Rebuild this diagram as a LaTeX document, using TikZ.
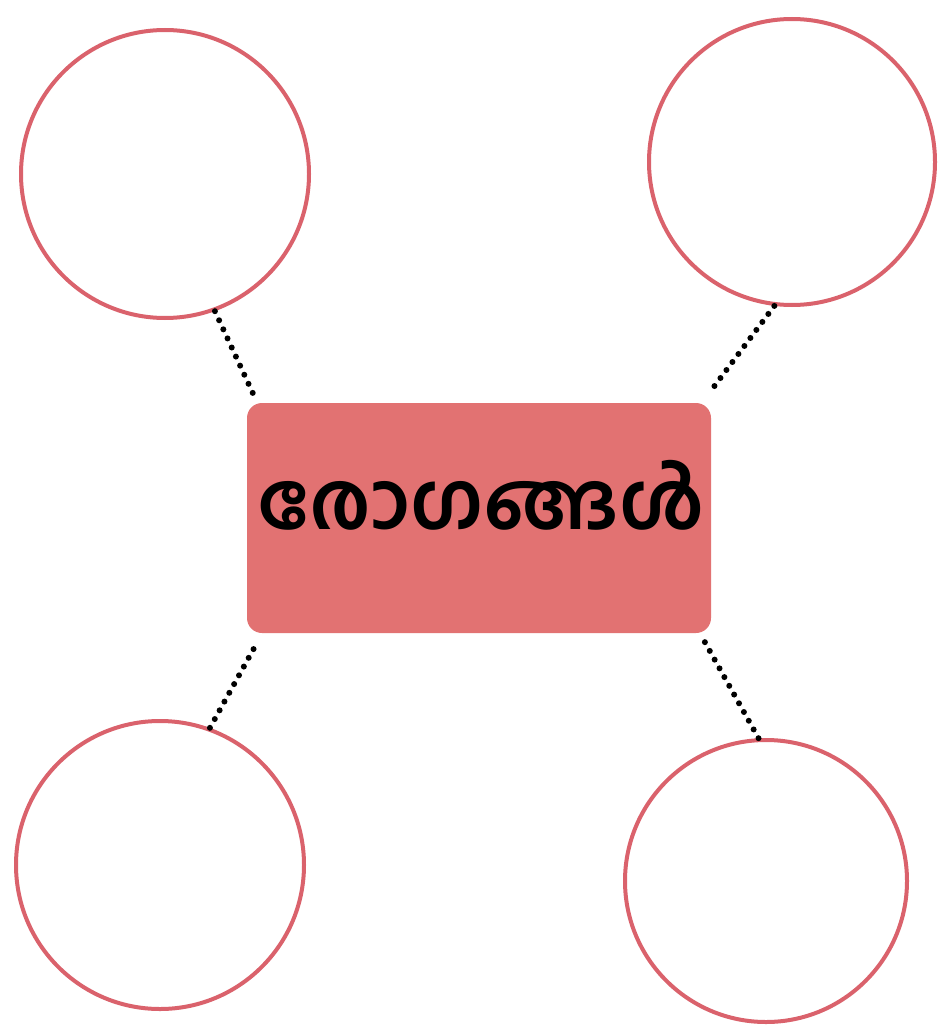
\documentclass[tikz,border=0pt]{standalone}
\usepackage{fontspec}
\newfontfamily\mlfont[Script=Malayalam]{Hind Kochi}
\definecolor{ringred}{RGB}{218,98,108}
\definecolor{boxred}{RGB}{226,114,114}
\begin{document}
\begin{tikzpicture}[x=1pt,y=-1pt,
  ring/.style={circle,draw=ringred,line width=4pt,minimum size=#1*2pt,inner sep=0pt},
  mainbox/.style={rectangle,rounded corners=15pt,fill=boxred,minimum width=464pt,minimum height=230pt,inner sep=0pt},
  boxtext/.style={inner sep=0pt,font=\mlfont\bfseries\fontsize{80}{92}\selectfont},
  dotline/.style={line width=6pt,line cap=round,dash pattern=on 0pt off 10pt,black}]
\useasboundingbox (0,0) rectangle (944,1035);
\node[ring=144] (tl) at (165,174) {};
\node[ring=143] (tr) at (792,162) {};
\node[ring=144] (bl) at (160,865) {};
\node[ring=141] (br) at (766,881) {};
\node[mainbox] (m) at (479,518) {};
\node[boxtext] (lbl) at ([yshift=23pt,xshift=2pt]m.center) {രോഗങ്ങൾ};
\coordinate (e1) at (256,400);
\coordinate (e2) at (713,388);
\coordinate (e3) at (258,641);
\coordinate (e4) at (702,637);
\draw[dotline] (tl.-70.3) -- (e1);
\draw[dotline] (tr.-97.4) -- (e2);
\draw[dotline] (bl.70.7) -- (e3);
\draw[dotline] (br.93.2) -- (e4);
\end{tikzpicture}
\end{document}
